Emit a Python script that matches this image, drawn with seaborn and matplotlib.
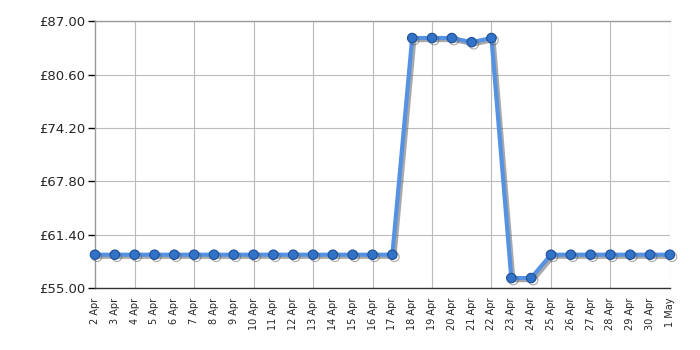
import matplotlib
matplotlib.use("Agg")
import matplotlib.pyplot as plt
import matplotlib.patheffects as pe
import seaborn as sns
import pandas as pd
import numpy as np

dates = ["2 Apr", "3 Apr", "4 Apr", "5 Apr", "6 Apr", "7 Apr", "8 Apr", "9 Apr", "10 Apr",
         "11 Apr", "12 Apr", "13 Apr", "14 Apr", "15 Apr", "16 Apr", "17 Apr", "18 Apr",
         "19 Apr", "20 Apr", "21 Apr", "22 Apr", "23 Apr", "24 Apr", "25 Apr", "26 Apr",
         "27 Apr", "28 Apr", "29 Apr", "30 Apr", "1 May"]
prices = [59.0, 59.0, 59.0, 59.0, 59.0, 59.0, 59.0, 59.0, 59.0,
          59.0, 59.0, 59.0, 59.0, 59.0, 59.0, 59.0, 85.0,
          85.0, 85.0, 84.5, 85.0, 56.2, 56.2, 59.0, 59.0,
          59.0, 59.0, 59.0, 59.0, 59.0]
y_ticks = [55.0, 61.4, 67.8, 74.2, 80.6, 87.0]

df = pd.DataFrame({"pos": np.arange(len(dates)), "price": prices})

sns.set_style("white")
plt.rcParams['font.family'] = ['DejaVu Sans']
fig = plt.figure(figsize=(7, 3.5), dpi=100)
ax = fig.add_axes([0.1357, 0.177, 0.957 - 0.1357, 0.939 - 0.177])

sns.lineplot(data=df, x="pos", y="price", ax=ax, color="#5593e2", linewidth=3.0,
             marker="o", markersize=6.8, markerfacecolor="#3173c9", markeredgecolor="#1f4f94",
             markeredgewidth=0.8, zorder=5, clip_on=False,
             path_effects=[pe.SimpleLineShadow(offset=(1.5, -1.5), shadow_color="#555555", alpha=0.5),
                           pe.Normal()])

ax.set_xlim(0, len(dates) - 1)
ax.set_ylim(y_ticks[0], y_ticks[-1])
ax.set_yticks(y_ticks)
ax.set_yticklabels([f"£{v:.2f}" for v in y_ticks], fontsize=9.5)
ax.set_xticks(np.arange(len(dates)))
ax.set_xticklabels(dates, rotation=90, fontsize=7)
minor_pos = np.arange(2, len(dates), 3)
ax.set_xticks(minor_pos, minor=True)
ax.tick_params(axis="x", which="major", bottom=True, length=0, pad=7)
ax.tick_params(axis="x", which="minor", bottom=True, length=5, width=1, color="black", direction="out")
ax.tick_params(axis="y", left=True, length=5, width=1, color="black", direction="out", pad=2)
ax.grid(False)
for y in y_ticks:
    ax.axhline(y, color="#bbbbbb", linewidth=0.8, zorder=0)
for x in minor_pos:
    ax.axvline(x, color="#bbbbbb", linewidth=0.8, zorder=0)
for s in ax.spines.values():
    s.set_color("#999999")
    s.set_linewidth(1)
ax.spines["bottom"].set_color("#333333")
ax.spines["right"].set_visible(False)
ax.set_xlabel("")
ax.set_ylabel("")
fig.savefig("out.png", dpi=100)
